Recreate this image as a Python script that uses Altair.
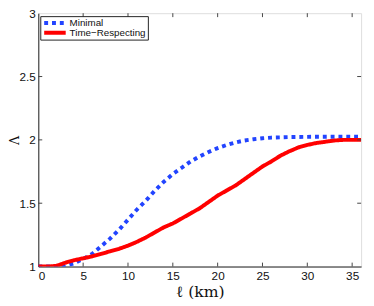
import altair as alt
import pandas as pd

# Minimal (blue dotted)
ell_min = [0, 1, 2, 3, 4, 5, 6, 7, 8, 9, 10, 11, 12, 13, 14, 15, 16, 17, 18, 19,
           20, 21, 22, 23, 24, 25, 26, 28, 30, 33, 36]
lam_min = [1.0, 1.0, 1.0, 1.005, 1.025, 1.06, 1.1, 1.16, 1.22, 1.29, 1.37, 1.45,
           1.52, 1.6, 1.67, 1.73, 1.78, 1.83, 1.87, 1.905, 1.935, 1.96, 1.98,
           1.995, 2.005, 2.013, 2.018, 2.022, 2.024, 2.025, 2.025]

# Time-Respecting (red solid)
ell_tr = [0, 1, 2, 3, 4, 5, 6, 7, 8, 9, 10, 11, 12, 13, 14, 15, 16, 17, 18, 19,
          20, 21, 22, 23, 24, 25, 26, 27, 28, 29, 30, 31, 32, 33, 34, 35, 36]
lam_tr = [1.0, 1.0, 1.005, 1.03, 1.05, 1.065, 1.08, 1.1, 1.12, 1.14, 1.165, 1.195,
          1.23, 1.27, 1.31, 1.34, 1.38, 1.42, 1.46, 1.51, 1.56, 1.6, 1.64, 1.69,
          1.74, 1.79, 1.83, 1.875, 1.91, 1.94, 1.96, 1.975, 1.985, 1.995, 2.0,
          2.0, 2.0]

series_names = ["Minimal", "Time\u2212Respecting"]
x_ticks = [0, 5, 10, 15, 20, 25, 30, 35]
y_ticks = [1, 1.5, 2, 2.5, 3]

df = pd.concat([
    pd.DataFrame({"ell": ell_min, "lam": lam_min, "series": series_names[0]}),
    pd.DataFrame({"ell": ell_tr, "lam": lam_tr, "series": series_names[1]}),
])

W, H = 330, 259
xs = alt.Scale(domain=[0, 36], nice=False, zero=False)
ys = alt.Scale(domain=[1, 3], nice=False, zero=False)
font = "Liberation Sans"

lines = alt.Chart(df).mark_line(strokeCap="butt", strokeWidth=4, clip=True).encode(
    x=alt.X("ell:Q", scale=xs, axis=alt.Axis(
        values=x_ticks, ticks=False, domainColor="#222", domainWidth=1,
        labelFont=font, labelFontSize=12, labelColor="#111", labelPadding=4,
        grid=False, title="\u2113 (km)", titleFont="DejaVu Serif",
        titleFontSize=16, titleFontWeight="normal", titleColor="#111",
        titlePadding=3)),
    y=alt.Y("lam:Q", scale=ys, axis=alt.Axis(
        values=y_ticks, ticks=False, domainColor="#222", domainWidth=1,
        labelFont=font, labelFontSize=12, labelColor="#111", labelPadding=3,
        format="~g", grid=False, title="\u039b", titleFont="DejaVu Serif",
        titleFontSize=13, titleFontWeight="normal", titleColor="#111",
        titleX=-24, titleBaseline="middle")),
    color=alt.Color("series:N", scale=alt.Scale(domain=series_names,
                    range=["#2244ff", "#ff0000"]),
                    legend=alt.Legend(title=None, orient="none", legendX=2, legendY=3,
                                      direction="vertical",
                                      symbolType="M-1,0H3", symbolSize=121,
                                      symbolStrokeWidth=4, labelFont=font,
                                      labelFontSize=10, labelColor="#111",
                                      labelOffset=13, rowPadding=0,
                                      clipHeight=10,
                                      strokeColor="#222", fillColor="white",
                                      padding=2, cornerRadius=0)),
    strokeDash=alt.StrokeDash("series:N", scale=alt.Scale(domain=series_names,
                              range=[[4, 4], [1, 0]]), legend=None),
)

tx = pd.DataFrame({"t": x_ticks[1:]})
ty = pd.DataFrame({"t": y_ticks[1:-1]})
tick_style = dict(color="#444", strokeWidth=1)
top_ticks = alt.Chart(tx).mark_rule(**tick_style).encode(
    x=alt.X("t:Q", scale=xs), y=alt.value(0), y2=alt.value(4))
bot_ticks = alt.Chart(tx).mark_rule(**tick_style).encode(
    x=alt.X("t:Q", scale=xs), y=alt.value(H), y2=alt.value(H - 4))
left_ticks = alt.Chart(ty).mark_rule(**tick_style).encode(
    y=alt.Y("t:Q", scale=ys), x=alt.value(0), x2=alt.value(4))
right_ticks = alt.Chart(ty).mark_rule(**tick_style).encode(
    y=alt.Y("t:Q", scale=ys), x=alt.value(W), x2=alt.value(W - 4))

chart = alt.layer(lines, top_ticks, bot_ticks, left_ticks, right_ticks).properties(
    width=W, height=H,
    autosize=alt.AutoSizeParams(type="none"),
    padding={"left": 31, "top": 2, "right": 5, "bottom": 36},
).configure_view(stroke="#999", strokeWidth=1.5).configure(background="white")

chart.save("out.html", embed_options={"renderer": "svg", "actions": False})
